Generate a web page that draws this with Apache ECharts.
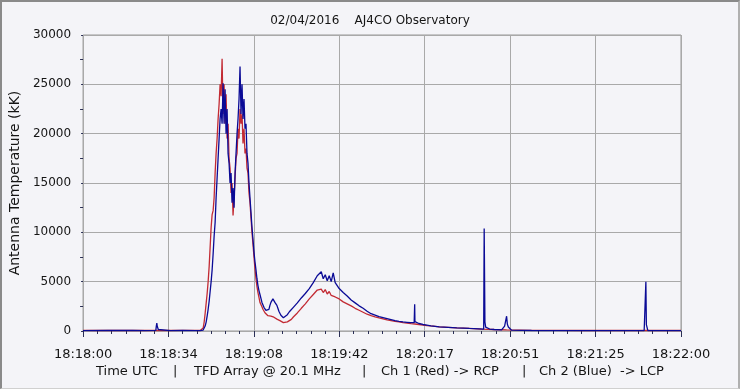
<!DOCTYPE html>
<html>
<head>
<meta charset="utf-8">
<script src="https://cdn.jsdelivr.net/npm/echarts@6/dist/echarts.min.js"></script>
<style>
html,body{margin:0;padding:0;background:#f4f4f8;}
#wrap{position:relative;width:740px;height:389px;}
#chart{position:absolute;left:0;top:0;width:740px;height:389px;}
#frame{position:absolute;left:0;top:0;width:740px;height:389px;box-sizing:border-box;border-top:2px solid #8a8a8a;border-left:2px solid #8a8a8a;border-right:2px solid #b0b0b0;border-bottom:1px solid #d0d0d0;pointer-events:none;}
</style>
</head>
<body>
<div id="wrap"><div id="chart"></div><div id="frame"></div></div>
<script>
// ---- Data (time in seconds after 18:18:00 UTC, values in kK) ----
const xTickLabels = ['18:18:00','18:18:34','18:19:08','18:19:42','18:20:17','18:20:51','18:21:25','18:22:00'];
const xMax = 240;
const yMax = 30000;
const yStep = 5000;
const footerParts = ['Time UTC', '|', 'TFD Array @ 20.1 MHz', '|', 'Ch 1 (Red) -> RCP', '|', 'Ch 2 (Blue)  -> LCP'];

// burst segment: evenly sampled
const burstStart = 47, burstStep = 0.4;
const redBurst = [
  50,60,120,300,900,1800,2800,3800,5000,6500,
  8500,10500,11800,12200,13500,16000,18000,19500,21500,23000,
  25000,23800,27600,22000,25000,21000,24000,19500,21000,17500,
  16500,14000,15000,11700,13500,15500,17500,18000,20500,19500,
  22500,21000,22000,19000,20500,18000,18500,16500,16000,14000,
  13000,11500,10000,8800,7500,6300,5300,4500,3900,3400,
  2900,2700,2450,2200,2000,1850,1750,1650,1550,1500,
  1450,1500,1400,1350,1400,1300,1300,1200,1150,1100,
  1050,1000,950
];
const blueBurst = [
  30,40,60,100,250,500,900,1500,2200,3000,
  4000,5000,6200,7800,9600,11000,13500,15500,17500,19500,
  21500,22500,21000,25100,21000,24500,20000,22500,18000,17000,
  15000,16000,13000,14500,12500,16000,18000,20000,21500,23500,
  26800,22000,25000,21500,23500,20500,21000,18000,17000,15000,
  13500,12000,10500,9300,8000,7000,6200,5300,4600,4100,
  3700,3300,2900,2700,2400,2200,2100,2000,1950,2200,
  2600,2900,3100,3250,3100,2900,2800,2600,2300,2000,
  1800,1600,1400
];

// hump segment: evenly sampled
const humpStart = 80.4, humpStep = 0.8;
const redHump = [
  850,900,930,1080,1180,1420,1580,1830,2020,2300,
  2450,2750,2850,3250,3350,3700,3750,4150,4200,4250,
  3900,4200,3750,4000,3600,3750,3450,3500,3250,3300,
  2950,3000,2750,2800,2550,2550,2300,2350,2100,2150,
  1900,1950,1700,1750,1550,1600,1420,1460,1320,1350,
  1230,1260,1130,1170,1060,1100,980,1010,920,950,
  850,880,800,820,750,770,710,720,660,680,
  610,620,555,560,510
];
const blueHump = [
  1350,1550,1650,1950,2150,2400,2600,2850,3000,3350,
  3250,3800,3700,4300,4300,4900,4900,5600,5700,6000,
  5300,5700,5100,5600,5000,5900,4900,5000,4300,4500,
  3900,3950,3550,3550,3150,3250,2850,2900,2550,2600,
  2300,2350,2000,2100,1750,1850,1600,1700,1450,1550,
  1350,1450,1250,1350,1150,1250,1050,1150,980,1050,
  920,1000,880,920,840,820,950,780,760,700,
  660,620,590,550,520
];

// sparse points [t, value]
const redSparse = [
  [0,60],[5,50],[10,70],[15,50],[20,60],[25,50],[30,60],[35,50],[40,70],[45,60],
  [143,420],[150,320],[155,260],[160,200],[165,150],[170,110],[180,70],[190,60],[200,50],[220,50],[240,50]
];
const blueSparse = [
  [0,40],[10,50],[20,50],[25,40],[29.2,60],[29.4,500],[29.6,800],[29.8,450],[30.2,150],[31,60],[35,40],[40,50],[45,40],
  [132.9,850],[133.1,2700],[133.3,880],
  [143,420],[150,320],[155,260],[160.8,200],[161.0,10400],[161.3,900],[161.6,400],[162.4,300],[163.2,200],
  [165,150],[168,120],[169.2,500],[169.6,300],[170.0,1500],[170.3,700],[170.7,400],[171.2,200],[172,80],
  [180,50],[200,40],[225.2,40],[225.3,600],[225.7,700],[225.9,5000],[226.1,650],[226.5,600],[226.7,40],[240,40]
];

function build(burst, hump, sparse) {
  const pts = [];
  burst.forEach((v, i) => pts.push([burstStart + burstStep * i, v]));
  hump.forEach((v, i) => pts.push([humpStart + humpStep * i, v]));
  sparse.forEach(p => pts.push(p));
  pts.sort((a, b) => a[0] - b[0]);
  return pts;
}

const chart = echarts.init(document.getElementById('chart'), null, {renderer: 'canvas'});
const font = 'DejaVu Sans';
const txt = '#151515';
const tickCol = '#2a2f55';
const gridCol = '#a9a9a9';
const xInterval = xMax / (xTickLabels.length - 1);
const footerX = [96, 173, 194, 362, 381, 522, 539];

chart.setOption({
  backgroundColor: '#f4f4f8',
  animation: false,
  title: [
    {text: '02/04/2016    AJ4CO Observatory', left: 'center', top: 10,
     textStyle: {fontSize: 12, fontWeight: 'normal', color: txt, fontFamily: font}}
  ],
  graphic: footerParts.map((s, i) => ({
    type: 'text', left: footerX[i], top: 365, silent: true,
    style: {text: s, fontSize: 13, fill: txt, fontFamily: font}
  })),
  grid: {left: 82, right: 59, top: 35, bottom: 58, show: true, borderColor: '#999', borderWidth: 1,
         backgroundColor: 'transparent', containLabel: false},
  xAxis: {
    type: 'value', min: 0, max: xMax, interval: xInterval, offset: 2,
    axisLine: {show: false},
    axisTick: {show: true, length: 6, lineStyle: {color: tickCol}},
    minorTick: {show: true, splitNumber: 6, length: 3, lineStyle: {color: tickCol}},
    splitLine: {show: true, lineStyle: {color: gridCol, width: 1}},
    axisLabel: {
      margin: 15, fontSize: 13, color: txt, fontFamily: font, showMinLabel: true, showMaxLabel: true,
      formatter: v => xTickLabels[Math.round(v / xInterval)] || ''
    }
  },
  yAxis: {
    type: 'value', min: 0, max: yMax, interval: yStep, offset: 5,
    name: 'Antenna Temperature (kK)', nameLocation: 'middle', nameGap: 42,
    nameTextStyle: {fontSize: 14, color: txt, fontFamily: font},
    axisLine: {show: false},
    axisTick: {show: true, length: 2, lineStyle: {color: tickCol}},
    minorTick: {show: true, splitNumber: 2, length: 3, lineStyle: {color: tickCol}},
    splitLine: {show: true, lineStyle: {color: gridCol, width: 1}},
    axisLabel: {margin: 7, fontSize: 12, color: txt, fontFamily: font, formatter: v => String(v)}
  },
  series: [
    {name: 'Ch 1 (Red)', type: 'line', data: build(redBurst, redHump, redSparse), showSymbol: false,
     symbol: 'none', sampling: null, lineStyle: {color: '#c22a33', width: 1.3}, z: 2},
    {name: 'Ch 2 (Blue)', type: 'line', data: build(blueBurst, blueHump, blueSparse), showSymbol: false,
     symbol: 'none', sampling: null, lineStyle: {color: '#0a0a96', width: 1.3}, z: 3}
  ]
});
</script>
</body>
</html>
